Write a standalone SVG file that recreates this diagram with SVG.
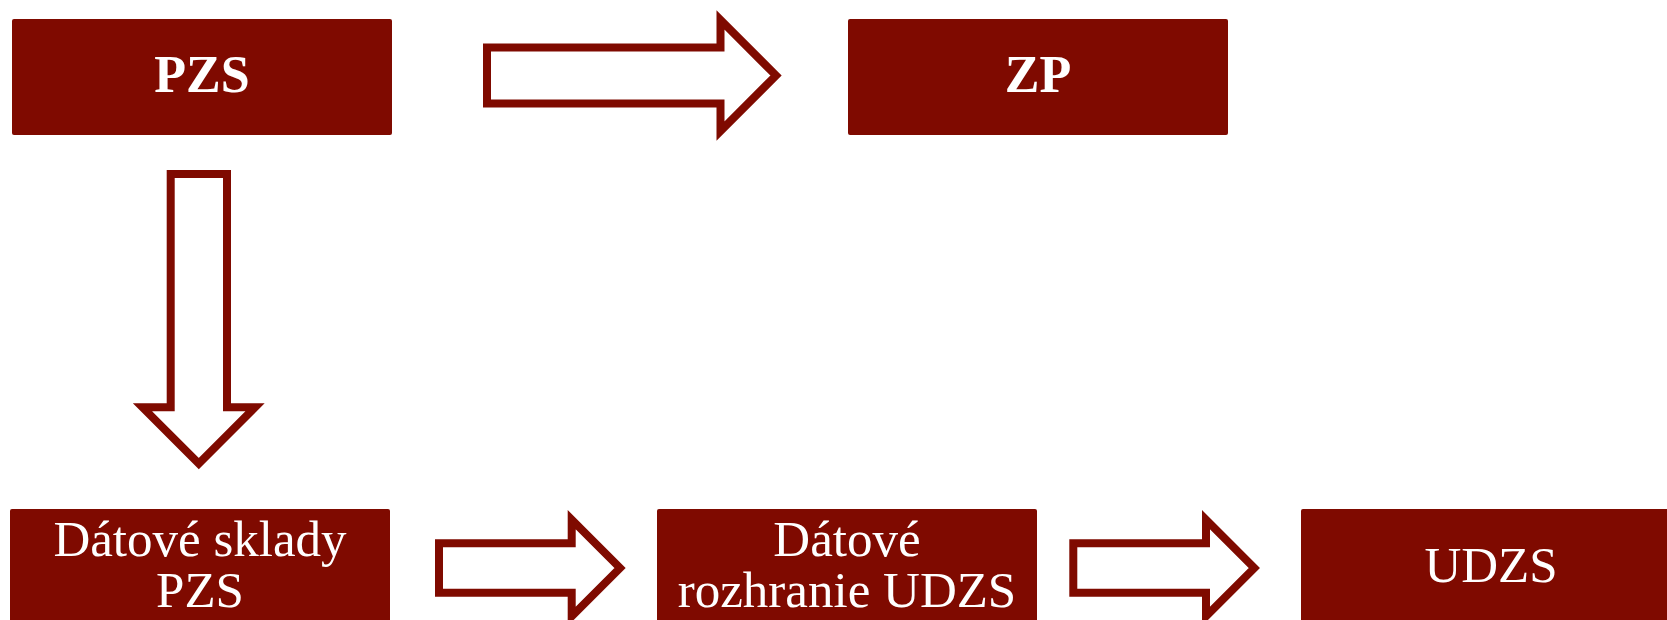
<svg xmlns="http://www.w3.org/2000/svg" width="1667" height="620" viewBox="0 0 1667 620">
<style>
.box{fill:#7f0a00;}
.arr{fill:#ffffff;stroke:#7f0a00;stroke-width:8;stroke-linejoin:miter;stroke-miterlimit:10;}
.t{font-family:"Liberation Serif","Times New Roman",serif;font-size:51px;fill:#ffffff;text-anchor:middle;}
.b{font-weight:bold;font-size:52px;}
</style>
<rect width="1667" height="620" fill="#ffffff"/>
<g id="connectors">
<polygon class="arr" points="487,47.5 720.5,47.5 720.5,20 776,75.5 720.5,131 720.5,103.5 487,103.5"/>
<polygon class="arr" points="170.7,174 227,174 227,407.3 255,407.3 198.8,463.5 142.5,407.3 170.7,407.3"/>
<polygon class="arr" points="439,543.3 571.7,543.3 571.7,519.7 620,568 571.7,616.3 571.7,592.7 439,592.7"/>
<polygon class="arr" transform="translate(634.3,0)" points="439,543.3 571.7,543.3 571.7,519.7 620,568 571.7,616.3 571.7,592.7 439,592.7"/>
</g>
<g id="node-pzs">
<rect class="box" x="12" y="19" width="380" height="116" rx="2"/>
<text class="t b" x="202" y="92">PZS</text>
</g>
<g id="node-zp">
<rect class="box" x="848" y="19" width="380" height="116" rx="2"/>
<text class="t b" x="1038" y="92">ZP</text>
</g>
<g id="node-datove-sklady">
<rect class="box" x="10" y="509" width="380" height="116" rx="2"/>
<text class="t" x="200" y="556">Dátové sklady</text>
<text class="t" x="200" y="607">PZS</text>
</g>
<g id="node-datove-rozhranie">
<rect class="box" x="657" y="509" width="380" height="116" rx="2"/>
<text class="t" x="847" y="556">Dátové</text>
<text class="t" x="847" y="607">rozhranie UDZS</text>
</g>
<g id="node-udzs">
<rect class="box" x="1301" y="509" width="380" height="116" rx="2"/>
<text class="t" x="1491" y="582">UDZS</text>
</g>
</svg>
